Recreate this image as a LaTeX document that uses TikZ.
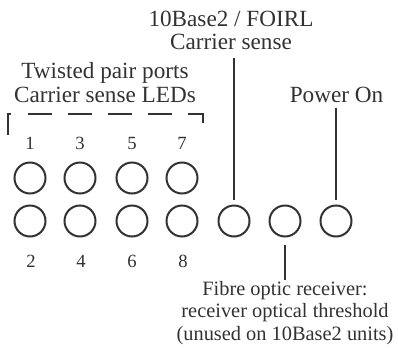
\documentclass[tikz,border=0pt]{standalone}
\usepackage{fontspec}
\setmainfont{Liberation Serif}
\usetikzlibrary{positioning}
\definecolor{inkgray}{RGB}{50,50,50}

\begin{document}
\begin{tikzpicture}[
  x=0.2mm, y=-0.2mm,
  led/.style={draw=inkgray, circle, line width=0.4mm, minimum size=6.2mm, inner sep=0pt},
  num/.style={anchor=base, text=inkgray, inner sep=0pt, font=\fontsize{10.6}{12}\selectfont},
  caption/.style={anchor=base, text=inkgray, align=center, inner sep=0pt, font=\fontsize{13.2}{13.4}\selectfont},
  note/.style={anchor=base, text=inkgray, align=center, inner sep=0pt, font=\fontsize{11.6}{12.8}\selectfont},
  wire/.style={draw=inkgray, line width=0.4mm}
]
  \useasboundingbox (0,0) rectangle (398,347);

  % labels (base = last line)
  \node[caption] (tp) at (105,102) {Twisted pair ports\\Carrier sense LEDs};
  \node[caption] (cs) at (231,50) {10Base2 / FOIRL\\Carrier sense};
  \node[caption] (pw) at (336.5,102) {Power On};
  \node[note] (fib) at (285,340) {Fibre optic receiver:\\receiver optical threshold\\(unused on 10Base2 units)};

  % LEDs
  \node[led] (led1) at (30,178) {};
  \node[led] (led3) at (80,178) {};
  \node[led] (led5) at (132,178) {};
  \node[led] (led7) at (182,178) {};
  \node[led] (led2) at (30,221) {};
  \node[led] (led4) at (80,221) {};
  \node[led] (led6) at (132,221) {};
  \node[led] (led8) at (182,221) {};
  \node[led] (fo) at (234,221) {};
  \node[led] (rx) at (285,221) {};
  \node[led] (pwr) at (336,221) {};

  % port numbers
  \node[num] (n1) at (30,149) {1};
  \node[num] (n3) at (80,149) {3};
  \node[num] (n5) at (132,149) {5};
  \node[num] (n7) at (182,149) {7};
  \node[num] (n2) at (31,267) {2};
  \node[num] (n4) at (81,267) {4};
  \node[num] (n6) at (132,267) {6};
  \node[num] (n8) at (183,267) {8};

  % bracket over the port LEDs
  \draw[wire, line width=0.25mm] (11,114) -- (8,114) -- (8,135);
  \draw[wire, line width=0.25mm, dash pattern=on 4.8mm off 3.2mm] (28,114) -- (203,114) -- (203,124);

  % leader lines
  \draw[wire, shorten <=1.4mm, shorten >=1mm] (cs.south -| fo) -- (fo.north);
  \draw[wire, shorten <=1mm, shorten >=1mm] (pw.south -| pwr) -- (pwr.north);
  \draw[wire, shorten <=1.5mm, shorten >=0.2mm] (rx.south) -- (rx.south |- fib.north);
\end{tikzpicture}
\end{document}
